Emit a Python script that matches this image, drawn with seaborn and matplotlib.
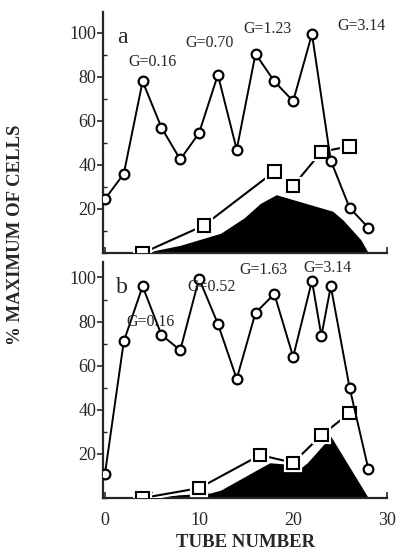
"""
Cell distribution along the gradient: two panels (a, b), % of maximum vs tube number.
"""
import matplotlib
matplotlib.use("Agg")
import matplotlib.pyplot as plt
import matplotlib.patheffects as pe
from matplotlib.ticker import MultipleLocator
import seaborn as sns

# panel a
a_circle_tube = [0, 2, 4, 6, 8, 10, 12, 14, 16, 18, 20, 22, 24, 26, 28]
a_circle_pct = [24.5, 36, 78, 57, 42.5, 54.5, 81, 47, 90.5, 78, 69, 99.5, 42, 20.5, 11.5]
a_square_tube = [4, 10.5, 18, 20, 23, 26]
a_square_pct = [0, 12.5, 37, 30.5, 46, 48.5]
a_fill_tube = [4, 8, 12.3, 14.8, 16.5, 18.2, 21, 24.2, 25.3, 27.2, 28]
a_fill_pct = [0, 3.5, 9, 16, 22.5, 26.5, 23, 19, 15, 6, 0]
a_g_labels = ["G=0.16", "G=0.70", "G=1.23", "G=3.14"]
a_g_tube = [5.0, 11.1, 17.3, 27.3]
a_g_pct = [86.8, 95.5, 101.8, 103.2]

# panel b
b_circle_tube = [0, 2, 4, 6, 8, 10, 12, 14, 16, 18, 20, 22, 23, 24, 26, 28]
b_circle_pct = [11, 71, 96, 74, 67, 99.5, 79, 54, 84, 92.5, 64, 98.5, 73.5, 96, 50, 13]
b_square_tube = [4, 10, 16.5, 20, 23, 26]
b_square_pct = [0, 4.5, 19.5, 16, 28.5, 38.5]
b_fill_tube = [4, 8, 11.2, 12.3, 17.5, 19, 20.3, 21.5, 24, 28]
b_fill_pct = [0, 1.5, 2.3, 3.6, 16, 15.5, 12, 16, 28, 0]
b_g_labels = ["G=0.16", "G=0.52", "G=1.63", "G=3.14"]
b_g_tube = [4.8, 11.3, 16.8, 23.7]
b_g_pct = [80, 95.5, 103.6, 104.5]

x_ticks = [0, 10, 20, 30]
y_ticks = [20, 40, 60, 80, 100]

sns.set_style("ticks")
plt.rcParams["font.family"] = ["Liberation Serif", "DejaVu Serif"]

fig = plt.figure(figsize=(3.98, 5.54), dpi=100)
ax_a = fig.add_axes([0.259, 0.5433, 0.714, 0.435])
ax_b = fig.add_axes([0.259, 0.101, 0.714, 0.426])


def draw_panel(ax, ct, cp, st, sp, ft, fp, gl, gt, gp, letter, ytop):
    ax.fill_between(ft, fp, 0, color="black", linewidth=0, zorder=1)
    sns.lineplot(x=st, y=sp, ax=ax, color="black", linewidth=1.5, marker="s",
                 markersize=9, markerfacecolor="white", markeredgecolor="black",
                 markeredgewidth=1.5, zorder=3,
                 path_effects=[pe.withStroke(linewidth=4.5, foreground="white")])
    sns.lineplot(x=ct, y=cp, ax=ax, color="black", linewidth=1.4, marker="o",
                 markersize=7, markerfacecolor="white", markeredgecolor="black",
                 markeredgewidth=1.6, zorder=4)
    for lab, x, y in zip(gl, gt, gp):
        ax.text(x, y, lab, ha="center", va="center", fontsize=11.5, zorder=5)
    ax.text(1.8, ytop - 11.5, letter, fontsize=17, ha="center", va="center")

    ax.set_xlim(-0.2, 30)
    ax.set_ylim(0, ytop)
    ax.set_xticks(x_ticks)
    ax.set_yticks(y_ticks)
    ax.xaxis.set_minor_locator(MultipleLocator(5))
    ax.yaxis.set_minor_locator(MultipleLocator(10))
    ax.tick_params(axis="y", which="major", direction="out", length=4, width=1.2,
                   labelsize=13, pad=1)
    ax.tick_params(axis="y", which="minor", direction="in", length=3, width=1)
    ax.tick_params(axis="x", which="both", direction="in", length=4, width=1.2,
                   labelsize=13, pad=10)
    ax.set_xlabel("")
    ax.set_ylabel("")
    for side in ["left", "bottom"]:
        ax.spines[side].set_linewidth(1.6)
    sns.despine(ax=ax)


draw_panel(ax_a, a_circle_tube, a_circle_pct, a_square_tube, a_square_pct,
           a_fill_tube, a_fill_pct, a_g_labels, a_g_tube, a_g_pct, "a", 109.5)
draw_panel(ax_b, b_circle_tube, b_circle_pct, b_square_tube, b_square_pct,
           b_fill_tube, b_fill_pct, b_g_labels, b_g_tube, b_g_pct, "b", 107)

ax_a.tick_params(axis="x", labelbottom=False)
ax_b.set_xlabel("TUBE NUMBER", fontsize=13.5, fontweight="bold", labelpad=4)
fig.text(0.038, 0.576, "% MAXIMUM OF CELLS", rotation=90, ha="center", va="center",
         fontsize=13.5, fontweight="bold")

fig.savefig("out.png", dpi=100)
